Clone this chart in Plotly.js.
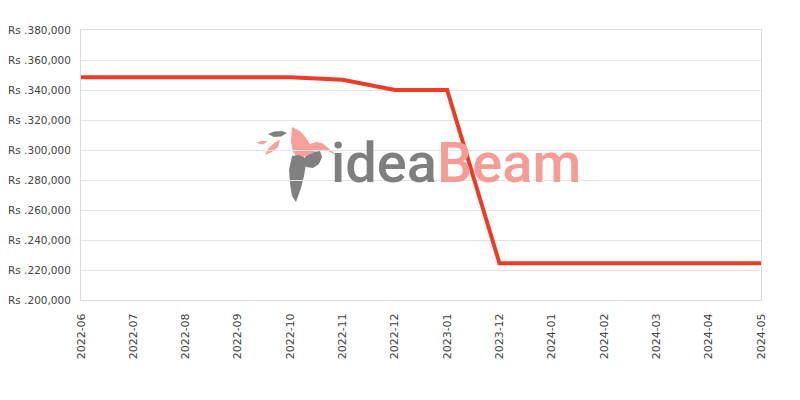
<!DOCTYPE html>
<html>
<head>
<meta charset="utf-8">
<script src="https://cdn.plot.ly/plotly-3.0.1.min.js"></script>
<style>html,body{margin:0;padding:0;background:#fff}#chart{width:800px;height:400px}</style>
</head>
<body>
<div id="chart"></div>
<script>
const months = ["2022-06","2022-07","2022-08","2022-09","2022-10","2022-11","2022-12","2023-01","2023-12","2024-01","2024-02","2024-03","2024-04","2024-05"];
const prices = [348500,348500,348500,348500,348500,346800,340000,340000,224500,224500,224500,224500,224500,224500];
const yTicks = [200000,220000,240000,260000,280000,300000,320000,340000,360000,380000];
const yTickText = yTicks.map(v => "Rs ." + v.toLocaleString("en-US"));

// plot area in pixels (for watermark decoration only)
const PL=81, PR=761, PT=30, PB=300;
function px(x,y){return ((x-PL)/(PR-PL)).toFixed(4)+","+((PB-y)/(PB-PT)).toFixed(4);}
function poly(pts){return "M"+pts.map(p=>px(p[0],p[1])).join(" L")+" Z";}

const salmon="#f6a09a", grey="#808080";
const shapes=[
  {type:"path",xref:"paper",yref:"paper",layer:"below",line:{width:0},fillcolor:grey,
   path:poly([[268,134],[274,131.5],[282,131],[287,133],[281,136.5],[274,137]])},
  {type:"path",xref:"paper",yref:"paper",layer:"below",line:{width:0},fillcolor:salmon,
   path:poly([[256,143],[261,141],[268,141],[263,144.5]])},
  {type:"path",xref:"paper",yref:"paper",layer:"below",line:{width:0},fillcolor:salmon,
   path:poly([[265,155],[268,149],[274,143],[280,140],[278,147],[272,152]])},
  {type:"path",xref:"paper",yref:"paper",layer:"below",line:{width:0},fillcolor:salmon,
   path:poly([[292,127],[300,131],[306,138],[310,144],[316,142],[322,143],[327,147],[338,156],[326,150],[320,150],[314,152],[306,156],[298,158],[293,152],[291,142]])},
  {type:"path",xref:"paper",yref:"paper",layer:"below",line:{width:0},fillcolor:grey,
   path:poly([[306,156],[314,152],[320,151],[322,157],[319,164],[313,168],[306,167],[302,161]])},
  {type:"path",xref:"paper",yref:"paper",layer:"below",line:{width:0},fillcolor:grey,
   path:poly([[292,156],[298,155],[304,157],[306,164],[304,176],[301,188],[296,202],[292,196],[290,184],[289,170]])}
];

const trace={
  x:months, y:prices, type:"scatter", mode:"lines",
  line:{color:"#ef3a26", width:4}, hoverinfo:"x+y"
};

const xFont={family:"DejaVu Sans, sans-serif", size:11, color:"#444"};
const yFont={family:"DejaVu Sans, sans-serif", size:10.5, color:"#444"};
const layout={
  width:800, height:400,
  margin:{l:81, r:39, t:30, b:100, pad:0},
  paper_bgcolor:"#fff", plot_bgcolor:"#fff",
  showlegend:false,
  xaxis:{type:"category", tickangle:-90, tickfont:xFont, showgrid:false,
    showline:true, linecolor:"#dcdcdc", linewidth:1, mirror:true,
    ticks:"outside", ticklen:8, tickcolor:"rgba(0,0,0,0)", zeroline:false, fixedrange:true},
  yaxis:{range:[200000,380000], tickmode:"array", tickvals:yTicks, ticktext:yTickText,
    tickfont:yFont, showgrid:true, gridcolor:"#e3e3e3", gridwidth:1,
    showline:true, linecolor:"#dcdcdc", linewidth:1, mirror:true,
    ticks:"outside", ticklen:7, tickcolor:"rgba(0,0,0,0)", zeroline:false, fixedrange:true},
  shapes:shapes,
  annotations:[{
    xref:"paper", yref:"paper", x:(456-PL)/(PR-PL), y:(PB-163)/(PB-PT),
    xanchor:"center", yanchor:"middle", showarrow:false,
    text:"<span style='color:#7f7f7f'>idea</span><span style='color:#f79c95'>Beam</span>",
    font:{family:"Roboto, sans-serif", size:56, weight:500}
  }]
};
Plotly.newPlot("chart",[trace],layout,{displayModeBar:false,staticPlot:true});
</script>
</body>
</html>
